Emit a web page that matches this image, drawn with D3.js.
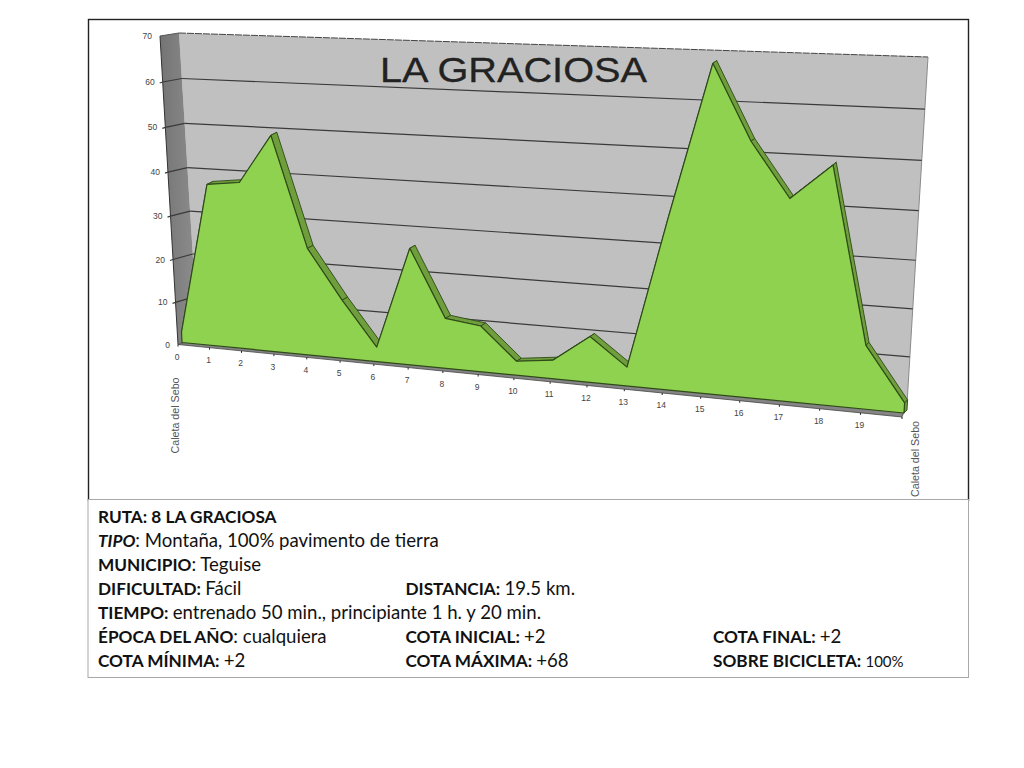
<!DOCTYPE html>
<html><head><meta charset="utf-8">
<script src="https://cdn.jsdelivr.net/npm/d3@7"></script>
<style>html,body{margin:0;padding:0;background:#fff}svg{display:block}</style>
</head><body>
<svg id="c" width="1024" height="768"></svg>
<script>
const kmTicks = [0,1,2,3,4,5,6,7,8,9,10,11,12,13,14,15,16,17,18,19];
const km = [0,1,2,3,4,5,6,7,8,9,10,11,12,13,14,15,16,17,18,19,20];
const elevation = [2.5,37.3,38.2,49.1,24.4,13.3,3.3,26.1,11.2,10.2,3.1,4.1,10,4.1,36.8,67.9,52.8,41.8,48.9,13.2,2.1];
const elevationTicks = [0,10,20,30,40,50,60,70];
const endLabel = "Caleta del Sebo";
const chartTitle = "LA GRACIOSA";
const info = [
 [[{t:"RUTA: 8 LA GRACIOSA",b:1}]],
 [[{t:"TIPO",b:1,i:1},{t:": Montaña, 100% pavimento de tierra"}]],
 [[{t:"MUNICIPIO",b:1},{t:": Teguise"}]],
 [[{t:"DIFICULTAD: ",b:1},{t:"Fácil"}],[{t:"DISTANCIA: ",b:1},{t:"19.5 km."}]],
 [[{t:"TIEMPO: ",b:1},{t:"entrenado 50 min., principiante 1 h. y 20 min."}]],
 [[{t:"ÉPOCA DEL AÑO",b:1},{t:": cualquiera"}],[{t:"COTA INICIAL: ",b:1},{t:"+2"}],[{t:"COTA FINAL: ",b:1},{t:"+2"}]],
 [[{t:"COTA MÍNIMA: ",b:1},{t:"+2"}],[{t:"COTA MÁXIMA: ",b:1},{t:"+68"}],[{t:"SOBRE BICICLETA: ",b:1},{t:"100%",s:1}]]
];

const uS = d3.scaleLinear().domain([0,20]).range([0,1]);
const vS = d3.scaleLinear().domain([0,70]).range([0,1]);

// perspective plane: maps (km, elevation) through the linear scales onto a screen quad
function plane(p00,p10,p11,p01){
  const sx=p00[0]-p10[0]+p11[0]-p01[0], sy=p00[1]-p10[1]+p11[1]-p01[1];
  const dx1=p10[0]-p11[0], dx2=p01[0]-p11[0], dy1=p10[1]-p11[1], dy2=p01[1]-p11[1];
  const den=dx1*dy2-dx2*dy1;
  const g=(sx*dy2-dx2*sy)/den, h=(dx1*sy-sx*dy1)/den;
  const a=p10[0]-p00[0]+g*p10[0], b=p01[0]-p00[0]+h*p01[0], c=p00[0];
  const d=p10[1]-p00[1]+g*p10[1], e=p01[1]-p00[1]+h*p01[1], f=p00[1];
  return (u,v)=>{const s=uS(u),t=vS(v),w=g*s+h*t+1;return [(a*s+b*t+c)/w,(d*s+e*t+f)/w];};
}
const front = plane([182,342.5],[904,413],[925,59],[168.5,36]);
const rear  = plane([188,339.5],[907,410],[927.5,56.5],[175,33]);
const wall  = plane([198,338],[907,404],[928,57],[179,33]);
const outer = plane([178,344.5],[902,417],[925,62],[160,36]);

const svg = d3.select("#c");
const line = d3.line();
const poly = pts => line(pts)+"Z";

// slide frame
svg.append("rect").attr("x",88.5).attr("y",19.5).attr("width",880).attr("height",481)
  .attr("fill","#fff").attr("stroke","#222").attr("stroke-width",1.4);

// back wall
svg.append("path").attr("d",poly([wall(0,0),wall(20,0),wall(20,70),wall(0,70)])).attr("fill","#c0c0c0").attr("stroke","none");
svg.append("path").attr("d",line([wall(0,70),wall(20,70)])).attr("fill","none").attr("stroke","#444").attr("stroke-width",1).attr("stroke-dasharray","7 1");
svg.append("path").attr("d",line([wall(20,70),wall(20,0)])).attr("fill","none").attr("stroke","#8a8a8a").attr("stroke-width",1);

// side wall
const sideGrad = svg.append("defs").append("linearGradient").attr("id","side").attr("x1",0).attr("x2",1).attr("y1",0).attr("y2",0);
sideGrad.append("stop").attr("offset",0).attr("stop-color","#747474");
sideGrad.append("stop").attr("offset",1).attr("stop-color","#8e8e8e");
svg.append("path").attr("d",poly([outer(0,0),wall(0,0),wall(0,70),outer(0,70)])).attr("fill","url(#side)").attr("stroke","none");
svg.append("path").attr("d",line([outer(0,70),outer(0,0)])).attr("fill","none").attr("stroke","#333").attr("stroke-width",1);
svg.append("path").attr("d",line([outer(0,70),wall(0,70)])).attr("fill","none").attr("stroke","#555").attr("stroke-width",1);

// floor
svg.append("path").attr("d",poly([outer(0,0),outer(20,0),wall(20,0),wall(0,0)])).attr("fill","#858585").attr("stroke","#444").attr("stroke-width",.8);

// grid lines
const grid = svg.append("g").attr("fill","none").attr("stroke","#3a3a3a").attr("stroke-width",1.2);
elevationTicks.filter(v=>v>0&&v<70).forEach(v=>{
  grid.append("path").attr("d",line([wall(0,v),wall(20,v)]));
  const o=outer(0,v);
  grid.append("path").attr("d",line([[o[0]-3,o[1]+1],o,wall(0,v)]));
});

// depth strip of the profile
const strip = svg.append("g");
km.slice(0,-1).forEach((u,i)=>{
  const u2=km[i+1], v1=elevation[i], v2=elevation[i+1];
  strip.append("path")
    .attr("d",poly([front(u,v1),front(u2,v2),rear(u2,v2),rear(u,v1)]))
    .attr("fill","#6f9e3c").attr("stroke","#2f4a18").attr("stroke-width",.9).attr("stroke-linejoin","round");
});
// right end of strip
svg.append("path").attr("d",poly([front(20,0),rear(20,0),rear(20,elevation[20]),front(20,elevation[20])]))
  .attr("fill","#6f9e3c").attr("stroke","#2f4a18").attr("stroke-width",.9);

// front face of the profile
const areaPts = km.map((u,i)=>front(u,elevation[i]));
areaPts.push(front(20,0),front(0,0));
svg.append("path").attr("d",poly(areaPts)).attr("fill","#8fd24f").attr("stroke","#2f4a18").attr("stroke-width",1.2).attr("stroke-linejoin","round");

// ticks and labels on the axes
const txt = svg.append("g").attr("font-family","'Liberation Sans',Arial,sans-serif").attr("fill","#444");
kmTicks.concat([20]).forEach(u=>{
  const o=outer(u,0);
  svg.append("path").attr("d",line([o,[o[0],o[1]+2]])).attr("stroke","#222").attr("stroke-width",1);
});
kmTicks.forEach(u=>{
  const o=outer(u,0);
  txt.append("text").attr("x",o[0]-1).attr("y",o[1]+15.5).attr("text-anchor","middle").attr("font-size",8.5).text(d3.format("d")(u));
});
elevationTicks.forEach(v=>{
  const o=outer(0,v);
  txt.append("text").attr("x",o[0]-8).attr("y",o[1]+3).attr("text-anchor","end").attr("font-size",8.5).text(d3.format("d")(v));
});
[[0,0.5,71],[20,17,42]].forEach(([u,dx,dy])=>{
  const o=outer(u,0);
  const x=o[0]+dx, y=o[1]+dy;
  txt.append("text").attr("transform",`translate(${x},${y}) rotate(-90)`).attr("text-anchor","middle")
    .attr("font-size",10.7).attr("fill","#555").text(endLabel);
});

// title
svg.append("text").attr("x",380).attr("y",82)
  .attr("textLength",267).attr("lengthAdjust","spacingAndGlyphs")
  .attr("font-family","'Liberation Sans',Arial,sans-serif").attr("font-size",35).attr("fill","#222")
  .attr("stroke","#222").attr("stroke-width",.3).text(chartTitle);

// info table
svg.append("rect").attr("x",88).attr("y",499.5).attr("width",880.5).attr("height",178)
  .attr("fill","#fff").attr("stroke","#a8a8a8").attr("stroke-width",1);
const colX = d3.scaleOrdinal().domain([0,1,2]).range([98,405.5,713]);
const rowY = d3.scaleLinear().domain([0,6]).range([523,667]);
const tb = svg.append("g").attr("font-family","Lato,'Open Sans',sans-serif").attr("fill","#111");
info.forEach((row,r)=>row.forEach((cell,c)=>{
  const t = tb.append("text").attr("x",colX(c)).attr("y",rowY(r)).attr("xml:space","preserve").style("white-space","pre");
  cell.forEach(s=>{
    t.append("tspan").attr("font-weight",s.b?"700":"400").attr("font-style",s.i?"italic":"normal")
     .attr("font-size",s.s?15:(s.b?17.2:18.6)).text(s.t);
  });
}));
</script>
</body></html>
